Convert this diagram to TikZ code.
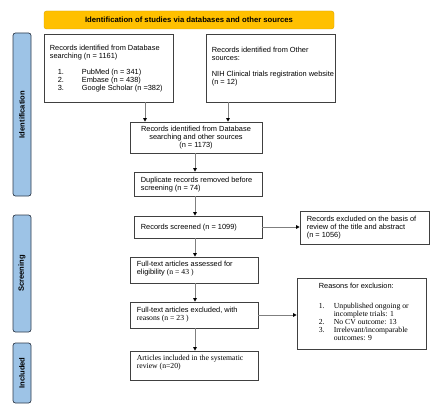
\documentclass[tikz,border=0pt]{standalone}
\usepackage{fontspec}
\setmainfont{Liberation Sans}
\newfontfamily\serifx{Liberation Serif}
\usetikzlibrary{arrows.meta}
\definecolor{titlefill}{HTML}{FFC000}
\definecolor{sidefill}{HTML}{9DC3E6}
\definecolor{sidedraw}{HTML}{2F3B4C}
\definecolor{linegray}{HTML}{7F7F7F}
\newcommand{\serfont}{\serifx\fontsize{7.7}{8}\selectfont}
\begin{document}
\begin{tikzpicture}[x=1pt,y=-1pt,
  every node/.style={font=\fontsize{7.4}{8}\selectfont},
  flowbox/.style={draw=black!75, line width=0.7pt, rectangle, inner sep=0pt},
  btext/.style={inner sep=0pt, align=left, anchor=west},
  sidebar/.style={draw=sidedraw, fill=sidefill, line width=0.7pt, rounded corners=2.5pt,
     minimum height=18pt, font=\fontsize{7.6}{8}\selectfont\bfseries, rotate=90},
  arr/.style={draw=linegray, line width=0.8pt, -{Triangle[length=3.5pt,width=3.5pt,color=black]}}]
\useasboundingbox (0,0) rectangle (442,420);
% title
\node[draw=titlefill!85!black, fill=titlefill, rounded corners=2.5pt, minimum width=290pt, minimum height=18pt,
  font=\fontsize{7.7}{8}\selectfont\bfseries] (title) at (189,20) {Identification of studies via databases and other sources};
% side bars
\node[sidebar, minimum width=163pt] (sid) at (22,114.5) {Identification};
\node[sidebar, minimum width=117pt] (sscr) at (22,273.5) {Screening};
\node[sidebar, minimum width=60pt] (sinc) at (22,373) {Included};
% boxes
\node[flowbox, minimum width=129pt, minimum height=68pt] (b1) at (108.5,68) {};
\node[flowbox, minimum width=129pt, minimum height=68pt] (b2) at (270.5,68) {};
\node[flowbox, minimum width=132pt, minimum height=31pt] (b3) at (196,137.5) {};
\node[flowbox, minimum width=128pt, minimum height=24pt] (b4) at (198,184) {};
\node[flowbox, minimum width=128pt, minimum height=22pt] (b5) at (198,227) {};
\node[flowbox, minimum width=129pt, minimum height=33pt] (b6) at (364.5,227.5) {};
\node[flowbox, minimum width=128pt, minimum height=26pt] (b7) at (194,270) {};
\node[flowbox, minimum width=128pt, minimum height=26pt] (b8) at (194,315) {};
\node[flowbox, minimum width=129pt, minimum height=71pt] (b9) at (361.5,313.5) {};
\node[flowbox, minimum width=128pt, minimum height=29pt] (b10) at (194,365.5) {};
% texts
\node[btext] (t1) at ([xshift=6pt,yshift=-1pt]b1.west)
 {Records identified from Database\\searching (n = 1161)\\[8pt]
  \hspace*{8pt}\makebox[24pt][l]{1.}PubMed (n = 341)\\
  \hspace*{8pt}\makebox[24pt][l]{2.}Embase (n = 438)\\
  \hspace*{8pt}\makebox[24pt][l]{3.}Google Scholar (n =382)};
\node[btext] (t2) at ([xshift=6pt,yshift=1.5pt]b2.west)
 {Records identified from Other\\sources:\\[8pt]NIH Clinical trials registration website\\(n = 12)};
\node[inner sep=0pt, align=center] (t3) at (b3.center)
 {Records identified from Database\\searching and other sources\\(n = 1173)};
\node[btext] (t4) at ([xshift=7pt,yshift=-0.5pt]b4.west)
 {Duplicate records removed before\\screening (n = 74)};
\node[btext] (t5) at ([xshift=7pt,yshift=-1pt]b5.west)
 {Records screened (n = 1099)};
\node[btext] (t6) at ([xshift=7pt]b6.west)
 {Records excluded on the basis of\\review of the title and abstract\\(n = 1056)};
\node[btext] (t7) at ([xshift=7pt,yshift=1pt]b7.west)
 {Full-text articles assessed for\\eligibility {\serfont(n = 43 )}};
\node[btext] (t8) at ([xshift=7pt,yshift=0.5pt]b8.west)
 {Full-text articles excluded, with\\{\serfont reasons (n = 23 )}};
\node[btext, anchor=north west] (t9) at ([xshift=22pt,yshift=-5pt]b9.north west)
 {Reasons for exclusion:\\[12pt]
  {\serfont\makebox[15pt][l]{1.}Unpublished ongoing or}\\
  {\serfont\hspace*{15pt}incomplete trials: 1}\\
  {\serfont\makebox[15pt][l]{2.}No CV outcome: 13}\\
  {\serfont\makebox[15pt][l]{3.}Irrelevant/incomparable}\\
  {\serfont\hspace*{15pt}outcomes: 9}};
\node[btext, font=\serfont] (t10) at ([xshift=7pt,yshift=2.5pt]b10.west)
 {Articles included in the systematic\\review (n=20)};
% connectors
\draw[arr] (b1.south -| 145,0) -- (b3.north -| 145,0);
\draw[arr] (b2.south -| 228,0) -- (b3.north -| 228,0);
\draw[arr] (b3.south -| 195,0) -- (b4.north -| 195,0);
\draw[arr] (b4.south -| 195,0) -- (b5.north -| 195,0);
\draw[arr] (b5.south -| 195,0) -- (b7.north -| 195,0);
\draw[arr] (b7.south -| 195,0) -- (b8.north -| 195,0);
\draw[arr] (b8.south -| 195,0) -- (b10.north -| 195,0);
\draw[arr] (b5.east) -- (b6.west |- b5.east);
\draw[arr] (b8.east) -- (b9.west |- b8.east);
\end{tikzpicture}
\end{document}
